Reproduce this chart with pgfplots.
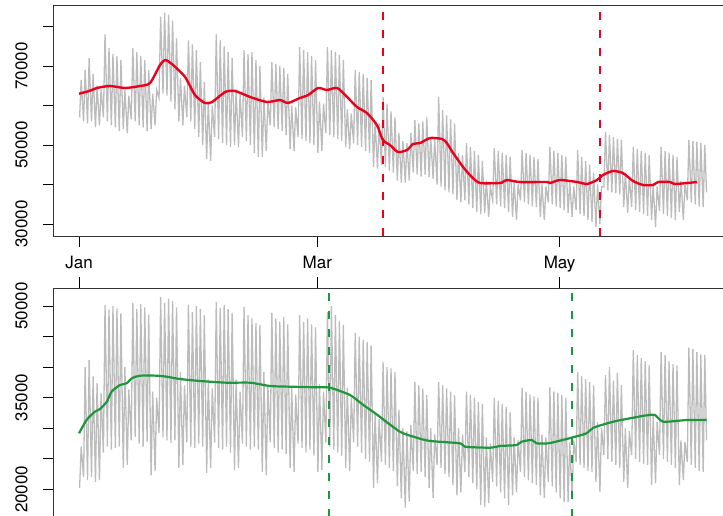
\documentclass[border=0pt]{standalone}
\usepackage{fontspec}
\setmainfont{TeX Gyre Heros}
\usepackage{pgfplots}
\pgfplotsset{compat=1.18}
\definecolor{rline}{RGB}{235,0,30}
\definecolor{gline}{RGB}{30,150,60}
\definecolor{graydata}{RGB}{188,188,188}
\begin{document}
\begin{tikzpicture}
\pgfplotsset{
  panel/.style={
    scale only axis, width=671.5pt,
    xmin=-6.42, xmax=162.64,
    axis line style={black!80, line width=0.8pt},
    tick align=outside, major tick length=10.7pt,
    tick style={black, line width=0.8pt},
    xtick={0,60,121},
    ytick pos=left,
    scaled ticks=false,
    tick label style={font=\fontsize{17}{20}\selectfont},
    /pgf/number format/assume math mode=true,
    yticklabel style={xshift=-15pt, rotate=90, anchor=south, inner sep=0pt},
    clip=true,
  }
}
\begin{axis}[panel, at={(53.5pt,-5pt)}, anchor=north west, height=231pt,
  ymin=26962, ymax=85451, ytick={30000,40000,50000,60000,70000,80000}, yticklabels={30000,,50000,,70000,},
  xtick pos=left, xticklabels={Jan,Mar,May}, xticklabel style={yshift=-9pt, anchor=north, inner sep=0pt}]
\addplot[graydata, line width=1.3pt, mark=none] coordinates {
(0.15,57000)(0.55,66500)
(1.15,56000)(1.55,69000)
(2.15,55500)(2.55,72000)
(3.15,56000)(3.55,68000)
(4.15,54500)(4.55,65000)
(5.15,55000)(5.55,64000)
(6.15,57000)(6.55,78000)
(7.15,56000)(7.55,74500)
(8.15,55000)(8.55,73000)
(9.15,54500)(9.55,72500)
(10.15,53500)(10.55,71500)
(11.15,54000)(11.55,64000)
(12.15,53000)(12.55,62500)
(13.15,56500)(13.55,74500)
(14.15,56000)(14.55,73500)
(15.15,55000)(15.55,72500)
(16.15,54500)(16.55,71500)
(17.15,53500)(17.55,69000)
(18.15,54000)(18.55,63000)
(19.15,55000)(19.55,64000)
(20.15,62000)(20.55,82500)
(21.15,63000)(21.55,83500)
(22.15,62500)(22.55,83000)
(23.15,61000)(23.55,81500)
(24.15,59000)(24.55,77000)
(25.15,56000)(25.55,67000)
(26.15,55000)(26.55,65000)
(27.15,57000)(27.55,76500)
(28.15,56000)(28.55,75500)
(29.15,54000)(29.55,74000)
(30.15,52000)(30.55,71000)
(31.15,50000)(31.55,66000)
(32.15,46500)(32.55,61000)
(33.15,46000)(33.55,60000)
(34.15,52000)(34.55,78000)
(35.15,51500)(35.55,76500)
(36.15,50500)(36.55,75000)
(37.15,50000)(37.55,73500)
(38.15,49500)(38.55,72000)
(39.15,50000)(39.55,64000)
(40.15,49500)(40.55,63000)
(41.15,52000)(41.55,74000)
(42.15,51000)(42.55,73000)
(43.15,50000)(43.55,73500)
(44.15,48000)(44.55,71500)
(45.15,47000)(45.55,70000)
(46.15,47000)(46.55,62000)
(47.15,48500)(47.55,61000)
(48.15,55000)(48.55,71000)
(49.15,54500)(49.55,70500)
(50.15,54000)(50.55,70000)
(51.15,53500)(51.55,69500)
(52.15,52500)(52.55,68000)
(53.15,49000)(53.55,60000)
(54.15,48500)(54.55,59500)
(55.15,52000)(55.55,74800)
(56.15,51500)(56.55,74000)
(57.15,51000)(57.55,73500)
(58.15,50500)(58.55,72500)
(59.15,50000)(59.55,71500)
(60.15,48000)(60.55,61000)
(61.15,48500)(61.55,60500)
(62.15,53000)(62.55,74800)
(63.15,52500)(63.55,74000)
(64.15,52000)(64.55,73500)
(65.15,51500)(65.55,72800)
(66.15,51000)(66.55,71500)
(67.15,49500)(67.55,59000)
(68.15,49000)(68.55,58000)
(69.15,50500)(69.55,69000)
(70.15,50000)(70.55,68500)
(71.15,49500)(71.55,68000)
(72.15,48500)(72.55,67000)
(73.15,48000)(73.55,66500)
(74.15,44500)(74.55,56000)
(75.15,44000)(75.55,55500)
(76.15,45000)(76.55,62200)
(77.15,44500)(77.55,60500)
(78.15,43500)(78.55,58500)
(79.15,43000)(79.55,57000)
(80.15,41000)(80.55,53000)
(81.15,40500)(81.55,51000)
(82.15,40500)(82.55,50500)
(83.15,41000)(83.55,53000)
(84.15,43000)(84.55,56300)
(85.15,42500)(85.55,55500)
(86.15,42000)(86.55,56000)
(87.15,42500)(87.55,57000)
(88.15,41900)(88.55,52000)
(89.15,41500)(89.55,51500)
(90.15,40000)(90.55,62200)
(91.15,39500)(91.55,58800)
(92.15,38500)(92.55,57500)
(93.15,38000)(93.55,56500)
(94.15,37500)(94.55,55500)
(95.15,36100)(95.55,48000)
(96.15,35500)(96.55,47500)
(97.15,36000)(97.55,50500)
(98.15,35000)(98.55,49500)
(99.15,34000)(99.55,48500)
(100.15,33000)(100.55,47500)
(101.15,32500)(101.55,46000)
(102.15,32800)(102.55,41000)
(103.15,31800)(103.55,39400)
(104.15,36000)(104.55,49200)
(105.15,35000)(105.55,48500)
(106.15,34500)(106.55,48000)
(107.15,34000)(107.55,47500)
(108.15,33000)(108.55,47000)
(109.15,31800)(109.55,40500)
(110.15,31000)(110.55,40000)
(111.15,36000)(111.55,48700)
(112.15,35500)(112.55,48000)
(113.15,35000)(113.55,47500)
(114.15,34500)(114.55,47000)
(115.15,34300)(115.55,46500)
(116.15,31800)(116.55,40000)
(117.15,31000)(117.55,39500)
(118.15,35500)(118.55,49500)
(119.15,35000)(119.55,48500)
(120.15,34500)(120.55,48000)
(121.15,34000)(121.55,47500)
(122.15,33500)(122.55,47000)
(123.15,32800)(123.55,40500)
(124.15,31800)(124.55,39500)
(125.15,33500)(125.55,48700)
(126.15,32500)(126.55,47000)
(127.15,32000)(127.55,46000)
(128.15,31000)(128.55,45000)
(129.15,30500)(129.55,43000)
(130.15,29200)(130.55,40000)
(131.15,30000)(131.55,39500)
(132.15,39400)(132.55,53300)
(133.15,38500)(133.55,52500)
(134.15,38000)(134.55,52000)
(135.15,37800)(135.55,51500)
(136.15,37500)(136.55,51300)
(137.15,34300)(137.55,43000)
(138.15,32800)(138.55,42000)
(139.15,34300)(139.55,49500)
(140.15,33500)(140.55,49000)
(141.15,33000)(141.55,48500)
(142.15,32500)(142.55,48000)
(143.15,32000)(143.55,47500)
(144.15,31000)(144.55,40000)
(145.15,29200)(145.55,39500)
(146.15,33300)(146.55,49500)
(147.15,32500)(147.55,48500)
(148.15,32000)(148.55,48000)
(149.15,31500)(149.55,47500)
(150.15,31000)(150.55,47000)
(151.15,33000)(151.55,41000)
(152.15,31000)(152.55,40000)
(153.15,36000)(153.55,51300)
(154.15,35500)(154.55,51000)
(155.15,35000)(155.55,50800)
(156.15,34500)(156.55,50500)
(157.15,34300)(157.55,50000)
(158.0,38000)
};
\addplot[rline, line width=2.4pt, mark=none, smooth, tension=0.4] coordinates {
(0,62990) (2.8,63750) (4.5,64440) (7.8,64940) (11.6,64440) (15.4,64940) (17.9,65700) (20.4,70260) (21.7,71520) (23.4,70510) (26.7,67220) (29.2,62660) (31.7,60640) (33.5,60890) (36.8,63420) (39.3,63680) (43.1,62160) (47.3,60890) (50.6,61400) (52.6,60640) (55.6,61900) (57.7,62660) (60.2,64440) (62.4,63930) (65.0,64440) (67.5,62160) (70.0,59620) (72.5,58100) (75.0,55070) (76.5,51270) (78.3,50000) (80.3,48230) (82.6,48740) (84.1,50260) (85.9,50510) (88.4,51780) (91.4,51520) (92.6,50510) (94.2,47980) (96.7,44430) (98.9,41900) (101.0,40380) (106.0,40380) (106.7,40630) (107.8,41140) (111.0,40630) (117.8,40630) (118.6,40380) (121.1,41140) (125.4,40630) (127.9,40130) (130.4,41140) (131.9,42400) (134.4,43420) (136.9,42910) (139.5,40890) (142.0,39880) (144.5,39880) (145.8,40630) (148.8,40630) (150.0,40130) (153.1,40380) (155.6,40630)
};
\addplot[rline, line width=2.2pt, dash pattern=on 8pt off 10pt, mark=none] coordinates {(76.6,26962) (76.6,85451)};
\addplot[rline, line width=2.2pt, dash pattern=on 8pt off 10pt, mark=none] coordinates {(131.2,26962) (131.2,85451)};
\end{axis}
\begin{axis}[panel, at={(53.5pt,-288pt)}, anchor=north west, height=242pt,
  ymin=13337, ymax=52953, ytick={20000,25000,30000,35000,40000,45000,50000}, yticklabels={20000,,,35000,,,50000},
  xtick pos=right, xticklabels={}]
\addplot[graydata, line width=1.3pt, mark=none] coordinates {
(0.15,20200)(0.55,27000)
(1.15,22000)(1.55,40000)
(2.15,21500)(2.55,41200)
(3.15,22000)(3.55,38500)
(4.15,21200)(4.55,37400)
(5.15,21500)(5.55,35800)
(6.15,26000)(6.55,50200)
(7.15,27000)(7.55,49400)
(8.15,26500)(8.55,50000)
(9.15,26800)(9.55,49600)
(10.15,27000)(10.55,48800)
(11.15,23500)(11.55,40000)
(12.15,24000)(12.55,36300)
(13.15,28000)(13.55,50500)
(14.15,28600)(14.55,49500)
(15.15,27500)(15.55,50300)
(16.15,27000)(16.55,49800)
(17.15,27800)(17.55,48600)
(18.15,22300)(18.55,36000)
(19.15,23000)(19.55,35000)
(20.15,29200)(20.55,51500)
(21.15,28500)(21.55,50500)
(22.15,28000)(22.55,51200)
(23.15,27600)(23.55,50800)
(24.15,28000)(24.55,49800)
(25.15,23500)(25.55,39200)
(26.15,24000)(26.55,37000)
(27.15,27700)(27.55,50200)
(28.15,27000)(28.55,49000)
(29.15,26800)(29.55,50000)
(30.15,27500)(30.55,49500)
(31.15,27000)(31.55,48500)
(32.15,22700)(32.55,38000)
(33.15,23500)(33.55,36500)
(34.15,27700)(34.55,50700)
(35.15,26800)(35.55,49700)
(36.15,26500)(36.55,50200)
(37.15,27000)(37.55,49500)
(38.15,26000)(38.55,48800)
(39.15,23100)(39.55,38000)
(40.15,23500)(40.55,36000)
(41.15,27500)(41.55,49900)
(42.15,27000)(42.55,48500)
(43.15,26500)(43.55,48000)
(44.15,27000)(44.55,47200)
(45.15,26500)(45.55,46900)
(46.15,22800)(46.55,39200)
(47.15,22300)(47.55,37000)
(48.15,27700)(48.55,48900)
(49.15,26800)(49.55,48000)
(50.15,26000)(50.55,47400)
(51.15,26500)(51.55,48200)
(52.15,25800)(52.55,47000)
(53.15,23500)(53.55,36600)
(54.15,22800)(54.55,35500)
(55.15,27500)(55.55,48500)
(56.15,26800)(56.55,47400)
(57.15,26000)(57.55,48000)
(58.15,26500)(58.55,47000)
(59.15,25500)(59.55,46500)
(60.15,22800)(60.55,37200)
(61.15,23200)(61.55,36000)
(62.15,27700)(62.55,49000)
(63.15,27000)(63.55,50000)
(64.15,26500)(64.55,48500)
(65.15,26000)(65.55,47500)
(66.15,25500)(66.55,46900)
(67.15,23500)(67.55,36600)
(68.15,23000)(68.55,35000)
(69.15,27700)(69.55,45600)
(70.15,27000)(70.55,45000)
(71.15,26000)(71.55,44500)
(72.15,25000)(72.55,44100)
(73.15,24500)(73.55,43500)
(74.15,20200)(74.55,32600)
(75.15,21000)(75.55,31500)
(76.15,24500)(76.55,40800)
(77.15,24000)(77.55,40000)
(78.15,23500)(78.55,39800)
(79.15,23000)(79.55,39200)
(80.15,20500)(80.55,33000)
(81.15,18500)(81.55,30000)
(82.15,17000)(82.55,29500)
(83.15,18000)(83.55,30500)
(84.15,23000)(84.55,37600)
(85.15,22500)(85.55,37000)
(86.15,22800)(86.55,36500)
(87.15,22000)(87.55,35400)
(88.15,20200)(88.55,30000)
(89.15,18600)(89.55,29000)
(90.15,24000)(90.55,37600)
(91.15,23500)(91.55,37000)
(92.15,22500)(92.55,36500)
(93.15,22000)(93.55,36000)
(94.15,20700)(94.55,35400)
(95.15,19000)(95.55,30000)
(96.15,19500)(96.55,29000)
(97.15,22800)(97.55,36000)
(98.15,22000)(98.55,35500)
(99.15,21000)(99.55,35000)
(100.15,20000)(100.55,34300)
(101.15,17400)(101.55,34000)
(102.15,17100)(102.55,28500)
(103.15,17800)(103.55,27500)
(104.15,21200)(104.55,35000)
(105.15,20500)(105.55,34500)
(106.15,19500)(106.55,34000)
(107.15,18500)(107.55,33500)
(108.15,17400)(108.55,32600)
(109.15,19000)(109.55,28500)
(110.15,19500)(110.55,28000)
(111.15,22800)(111.55,36600)
(112.15,22000)(112.55,36000)
(113.15,21500)(113.55,35500)
(114.15,21000)(114.55,35200)
(115.15,20700)(115.55,35000)
(116.15,19000)(116.55,29000)
(117.15,18600)(117.55,28500)
(118.15,21200)(118.55,36700)
(119.15,20500)(119.55,36000)
(120.15,19500)(120.55,35800)
(121.15,18500)(121.55,35400)
(122.15,17900)(122.55,35000)
(123.15,17900)(123.55,27700)
(124.15,18500)(124.55,28000)
(125.15,24500)(125.55,39200)
(126.15,24000)(126.55,38500)
(127.15,23500)(127.55,38000)
(128.15,23000)(128.55,37600)
(129.15,22800)(129.55,37000)
(130.15,21200)(130.55,31000)
(131.15,19600)(131.55,30000)
(132.15,25600)(132.55,38700)
(133.15,25000)(133.55,40000)
(134.15,24500)(134.55,37800)
(135.15,24000)(135.55,39000)
(136.15,23500)(136.55,37100)
(137.15,21200)(137.55,30000)
(138.15,20200)(138.55,29500)
(139.15,25600)(139.55,42800)
(140.15,25000)(140.55,42000)
(141.15,24500)(141.55,41500)
(142.15,24200)(142.55,41000)
(143.15,24000)(143.55,40300)
(144.15,20700)(144.55,32000)
(145.15,21000)(145.55,31000)
(146.15,25600)(146.55,42500)
(147.15,25000)(147.55,42000)
(148.15,24500)(148.55,41000)
(149.15,24000)(149.55,40500)
(150.15,23500)(150.55,40300)
(151.15,20700)(151.55,28000)
(152.15,21500)(152.55,27700)
(153.15,24500)(153.55,43200)
(154.15,24000)(154.55,43000)
(155.15,23500)(155.55,42500)
(156.15,23000)(156.55,42100)
(157.15,22800)(157.55,42000)
(158.0,28000)
};
\addplot[gline, line width=2.2pt, mark=none, smooth, tension=0.4] coordinates {
(0,29170) (1.9,31340) (4.0,32700) (5.3,33150) (7.0,34340) (8.2,35980) (10.3,37070) (12.0,37350) (13.3,38170) (15.4,38600) (19.6,38600) (22.1,38430) (25.4,38060) (30.5,37730) (37.2,37450) (43.1,37450) (48.1,36910) (53.1,36800) (59.8,36700) (63.2,36630) (68.2,35440) (71.6,33800) (74.9,32280) (80.8,29430) (85.0,28450) (88.4,27910) (95.9,27530) (97.2,26970) (103.5,26810) (106.0,27090) (110.2,27250) (111.4,27790) (114.0,28070) (115.2,27530) (118.2,27530) (121.1,27960) (124.0,28450) (127.8,29170) (129.5,30080) (134.5,31070) (138.7,31620) (142.9,32110) (145.0,32160) (147.1,31070) (153.0,31340) (158.0,31340)
};
\addplot[gline, line width=2pt, dash pattern=on 8pt off 10pt, dash phase=12.7pt, mark=none] coordinates {(63.0,52953) (63.0,13337)};
\addplot[gline, line width=2pt, dash pattern=on 8pt off 10pt, dash phase=12.7pt, mark=none] coordinates {(124.1,52953) (124.1,13337)};
\end{axis}
\pgfresetboundingbox
\path[use as bounding box] (0pt,0pt) rectangle (723pt,-515pt);
\end{tikzpicture}
\end{document}
